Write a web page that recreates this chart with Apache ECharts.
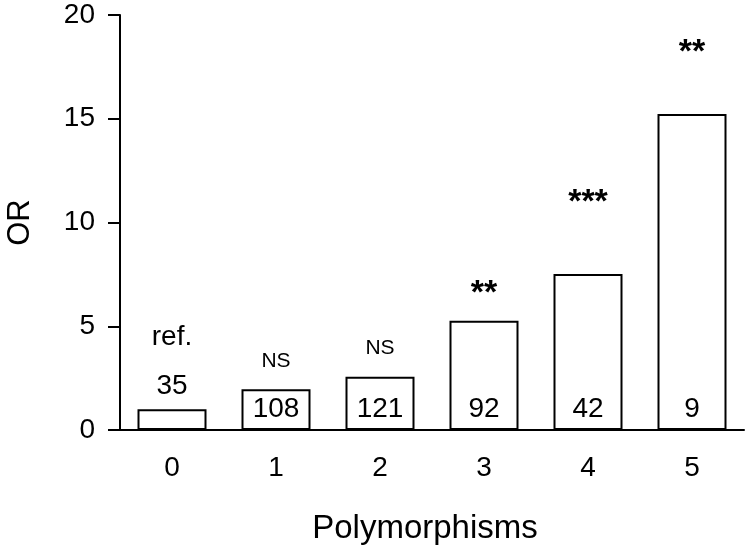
<!DOCTYPE html>
<html>
<head>
<meta charset="utf-8">
<script src="https://cdn.jsdelivr.net/npm/echarts@6/dist/echarts.min.js"></script>
<style>
    html, body {margin: 0; padding: 0; background: #fff;}
    #orChart {width: 749px; height: 554px;}
</style>
</head>
<body>
<div id="orChart"></div>
<script>
var categories = ['0', '1', '2', '3', '4', '5'];
var orValues = [1.0, 1.96, 2.57, 5.27, 7.52, 15.23];
var nCounts = [35, 108, 121, 92, 42, 9];
var sigLabels = ['ref.', 'NS', 'NS', '**', '***', '**'];
var yTicks = [0, 5, 10, 15, 20];

(function () {
    var font = '"Liberation Sans", Arial, sans-serif';
    // gap between bar top and the significance mark
    var sigGap = [58, 18, 18, 10, 54, 44];

    var countData = [];
    var sigData = [];
    for (var i = 0; i < orValues.length; i++) {
        // first bar is too short, its count goes on top
        var inBar = orValues[i] > 1.5;
        countData.push({
            value: orValues[i],
            label: {
                show: true,
                formatter: String(nCounts[i]),
                position: inBar ? 'insideBottom' : 'top',
                distance: inBar ? 7 : 9
            }
        });
        var isStar = sigLabels[i].indexOf('*') >= 0;
        sigData.push({
            value: orValues[i],
            label: {
                show: true,
                formatter: sigLabels[i],
                position: 'top',
                distance: sigGap[i],
                fontSize: isStar ? 34 : (sigLabels[i] == 'NS' ? 21 : 28),
                fontWeight: isStar ? 'bold' : 'normal'
            }
        });
    }

    var option = {
        animation: false,
        textStyle: {fontFamily: font, color: '#000'},
        grid: {left: 120, right: 5, top: 15, bottom: 124, containLabel: false, outerBoundsMode: 'none'},
        xAxis: {
            type: 'category',
            data: categories,
            name: 'Polymorphisms',
            nameLocation: 'middle',
            nameGap: 82,
            nameTextStyle: {fontSize: 33, color: '#000', fontFamily: font, padding: [0, 14, 0, 0]},
            axisLine: {lineStyle: {color: '#000', width: 2}},
            axisTick: {show: false},
            axisLabel: {fontSize: 28, color: '#000', margin: 24, fontFamily: font}
        },
        yAxis: {
            type: 'value',
            min: yTicks[0],
            max: yTicks[yTicks.length - 1],
            interval: yTicks[1] - yTicks[0],
            name: 'OR',
            nameLocation: 'middle',
            nameGap: 84,
            nameRotate: 90,
            nameTextStyle: {fontSize: 31, color: '#000', fontFamily: font},
            axisLine: {show: true, lineStyle: {color: '#000', width: 2}},
            axisTick: {show: true, inside: false, length: 12, lineStyle: {color: '#000', width: 2}},
            axisLabel: {fontSize: 28, color: '#000', margin: 25, fontFamily: font},
            splitLine: {show: false}
        },
        series: [
            {
                type: 'bar',
                barWidth: 69,
                data: countData,
                itemStyle: {color: '#fff', borderColor: '#000', borderWidth: 2},
                label: {color: '#000', fontSize: 28, fontFamily: font}
            },
            {
                type: 'bar',
                barWidth: 69,
                barGap: '-100%',
                silent: true,
                data: sigData,
                itemStyle: {color: 'rgba(0,0,0,0)', borderWidth: 0},
                label: {color: '#000', fontFamily: font},
                z: 3
            }
        ]
    };

    var orChart = echarts.init(document.getElementById('orChart'));
    orChart.setOption(option);
})();
</script>
</body>
</html>
